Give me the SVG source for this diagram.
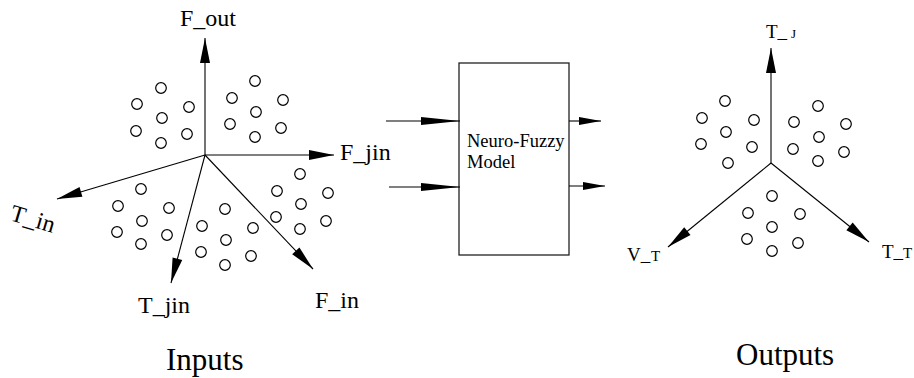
<svg xmlns="http://www.w3.org/2000/svg" width="914" height="378" viewBox="0 0 914 378">
<style>
.ax{stroke:#000;stroke-width:1.1;fill:none}
.c{fill:none;stroke:#000;stroke-width:1.2}
text{font-family:"Liberation Serif","Times New Roman",serif;fill:#000}
</style>
<defs>
<marker id="ah" markerWidth="26" markerHeight="10" refX="25" refY="5" orient="auto" markerUnits="userSpaceOnUse" overflow="visible"><path d="M0,0 L25,5 L0,10 z" fill="#000"/></marker>
<marker id="ahl" markerWidth="40" markerHeight="8" refX="39" refY="4" orient="auto" markerUnits="userSpaceOnUse" overflow="visible"><path d="M0,0 L39,4 L0,8 z" fill="#000"/></marker>
<marker id="ahs" markerWidth="23" markerHeight="8" refX="22" refY="4" orient="auto" markerUnits="userSpaceOnUse" overflow="visible"><path d="M0,0 L22,4 L0,8 z" fill="#000"/></marker>
<circle id="o" r="5.3" class="c"/>
</defs>
<rect width="914" height="378" fill="#fff"/>

<g id="inputs">
<g id="input-axes">
<line class="ax" x1="205" y1="155" x2="205" y2="38" marker-end="url(#ah)"/>
<line class="ax" x1="205" y1="155" x2="334" y2="155" marker-end="url(#ah)"/>
<line class="ax" x1="205" y1="155" x2="57" y2="199" marker-end="url(#ah)"/>
<line class="ax" x1="205" y1="155" x2="171" y2="283" marker-end="url(#ah)"/>
<line class="ax" x1="205" y1="155" x2="313" y2="269" marker-end="url(#ah)"/>
</g>
<g id="input-points">
<use href="#o" x="161" y="88"/><use href="#o" x="137" y="104"/><use href="#o" x="189" y="107"/><use href="#o" x="162" y="118"/><use href="#o" x="136" y="131"/><use href="#o" x="187" y="134"/><use href="#o" x="161" y="143"/>
<use href="#o" x="255" y="81"/><use href="#o" x="232" y="98"/><use href="#o" x="283" y="100"/><use href="#o" x="256" y="112"/><use href="#o" x="230" y="124"/><use href="#o" x="281" y="128"/><use href="#o" x="255" y="137"/>
<use href="#o" x="141" y="189"/><use href="#o" x="118" y="206"/><use href="#o" x="169" y="208"/><use href="#o" x="142" y="221"/><use href="#o" x="117" y="232"/><use href="#o" x="167" y="235"/><use href="#o" x="141" y="244"/>
<use href="#o" x="225" y="209"/><use href="#o" x="202" y="226"/><use href="#o" x="253" y="228"/><use href="#o" x="226" y="240"/><use href="#o" x="201" y="252"/><use href="#o" x="251" y="256"/><use href="#o" x="225" y="265"/>
<use href="#o" x="300" y="174"/><use href="#o" x="277" y="191"/><use href="#o" x="328" y="193"/><use href="#o" x="301" y="204"/><use href="#o" x="276" y="217"/><use href="#o" x="326" y="221"/><use href="#o" x="300" y="229"/>
</g>
<g id="input-labels" font-family="Liberation Serif, serif" font-size="24">
<text x="180" y="26">F_out</text>
<text x="340" y="160">F_jin</text>
<text transform="translate(9,220) rotate(16.5)">T_in</text>
<text x="138" y="313">T_jin</text>
<text x="315" y="308">F_in</text>
</g>
<text x="166" y="370" font-family="Liberation Serif, serif" font-size="31">Inputs</text>
</g>

<g id="model">
<rect x="459" y="63" width="110" height="192" fill="none" stroke="#222" stroke-width="1.3"/>
<text x="467" y="147" font-family="Liberation Serif, serif" font-size="18.5">Neuro-Fuzzy</text>
<text x="467" y="168" font-family="Liberation Serif, serif" font-size="18.5">Model</text>
</g>

<g id="connectors">
<line class="ax" x1="386" y1="121" x2="460" y2="121" marker-end="url(#ahl)"/>
<line class="ax" x1="389" y1="187" x2="460" y2="187" marker-end="url(#ahl)"/>
<line class="ax" x1="569" y1="121" x2="601" y2="121" marker-end="url(#ahs)"/>
<line class="ax" x1="569" y1="186" x2="605" y2="186" marker-end="url(#ahs)"/>
</g>

<g id="outputs">
<g id="output-axes">
<line class="ax" x1="771" y1="163" x2="771" y2="48" marker-end="url(#ah)"/>
<line class="ax" x1="771" y1="163" x2="668" y2="247" marker-end="url(#ah)"/>
<line class="ax" x1="771" y1="163" x2="869" y2="242" marker-end="url(#ah)"/>
</g>
<g id="output-points">
<use href="#o" x="725" y="101"/><use href="#o" x="702" y="118"/><use href="#o" x="754" y="120"/><use href="#o" x="726" y="132"/><use href="#o" x="701" y="144"/><use href="#o" x="752" y="147"/><use href="#o" x="728" y="163"/>
<use href="#o" x="818" y="106"/><use href="#o" x="794" y="122"/><use href="#o" x="846" y="124"/><use href="#o" x="819" y="137"/><use href="#o" x="793" y="149"/><use href="#o" x="844" y="152"/><use href="#o" x="818" y="161"/>
<use href="#o" x="772" y="196"/><use href="#o" x="748" y="213"/><use href="#o" x="800" y="214"/><use href="#o" x="772" y="227"/><use href="#o" x="747" y="239"/><use href="#o" x="798" y="243"/><use href="#o" x="772" y="251"/>
</g>
<g id="output-labels" font-family="Liberation Serif, serif">
<text x="766" y="38" font-size="19">T_<tspan x="791" font-size="13">J</tspan></text>
<text x="627" y="261" font-size="19">V_<tspan x="651" font-size="15">T</tspan></text>
<text x="882" y="258" font-size="19">T_<tspan x="903" font-size="15">T</tspan></text>
</g>
<text x="736" y="365" font-family="Liberation Serif, serif" font-size="31">Outputs</text>
</g>
</svg>
